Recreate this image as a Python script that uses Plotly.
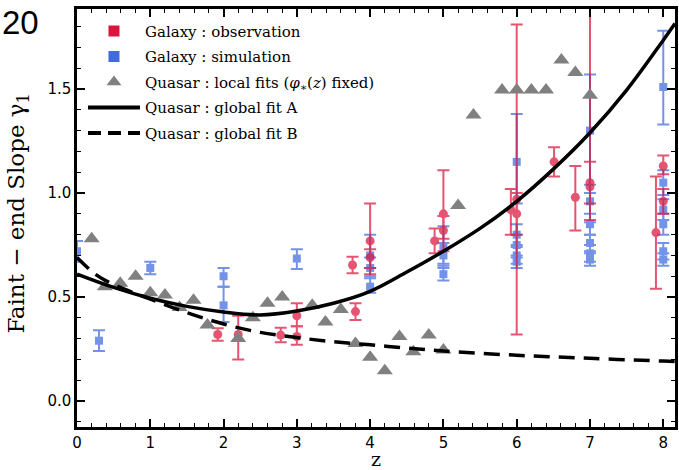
import plotly.graph_objects as go

# Galaxy faint-end slopes: observations (z, gamma, +err, -err)
obs_z = [1.92, 2.2, 2.78, 3.0, 3.0, 3.76, 3.8, 4.0, 4.0, 4.88, 5.0, 5.0,
         5.92, 6.0, 6.0, 6.51, 6.8, 7.0, 7.0, 7.9, 8.0, 8.0]
obs_g = [0.32, 0.32, 0.317, 0.41, 0.31, 0.654, 0.43, 0.77, 0.69, 0.77, 0.90, 0.82,
         0.92, 0.97, 0.90, 1.15, 0.98, 1.03, 1.05, 0.81, 1.13, 0.96]
obs_ep = [0.03, 0.09, 0.035, 0.06, 0.05, 0.04, 0.04, 0.18, 0.04, 0.06, 0.21, 0.07,
          0.10, 0.84, 0.10, 0.07, 0.15, 0.95, 0.10, 0.27, 0.05, 0.06]
obs_em = [0.03, 0.12, 0.035, 0.05, 0.04, 0.04, 0.04, 0.16, 0.05, 0.06, 0.12, 0.10,
          0.12, 0.65, 0.10, 0.07, 0.16, 0.16, 0.10, 0.27, 0.04, 0.06]

# Galaxy faint-end slopes: simulations
sim_z = [0.0, 0.3, 1.0, 2.0, 2.0, 3.0, 4.0, 4.0, 4.0, 5.0, 5.0, 5.0,
         6.0, 6.0, 6.0, 6.0, 6.0, 7.0, 7.0, 7.0, 7.0, 7.0, 7.0,
         8.0, 8.0, 8.0, 8.0, 8.0, 8.0]
sim_g = [0.72, 0.29, 0.64, 0.60, 0.46, 0.685, 0.70, 0.64, 0.55, 0.74, 0.70, 0.61,
         1.15, 0.80, 0.75, 0.70, 0.67, 1.30, 0.96, 0.85, 0.76, 0.71, 0.68,
         1.51, 1.05, 0.92, 0.85, 0.72, 0.68]
sim_ep = [0.05, 0.05, 0.03, 0.04, 0.09, 0.045, 0.10, 0.05, 0.05, 0.10, 0.06, 0.04,
          0.23, 0.05, 0.05, 0.04, 0.03, 0.27, 0.08, 0.05, 0.04, 0.04, 0.03,
          0.27, 0.06, 0.05, 0.05, 0.04, 0.03]
sim_em = [0.05, 0.05, 0.03, 0.05, 0.08, 0.05, 0.06, 0.05, 0.03, 0.08, 0.06, 0.03,
          0.20, 0.05, 0.06, 0.04, 0.03, 0.30, 0.10, 0.05, 0.04, 0.04, 0.03,
          0.18, 0.06, 0.05, 0.05, 0.04, 0.03]

# Quasar local fits with phi_*(z) fixed
qso_z = [0.2, 0.38, 0.59, 0.8, 1.0, 1.2, 1.4, 1.59, 1.78, 2.2, 2.4, 2.6, 2.8,
         3.21, 3.39, 3.6, 3.8, 4.0, 4.2, 4.4, 4.59, 4.8, 5.0, 5.2, 5.41,
         5.8, 6.0, 6.2, 6.4, 6.61, 6.8, 7.0]
qso_g = [0.78, 0.55, 0.566, 0.60, 0.52, 0.51, 0.45, 0.485, 0.365, 0.30, 0.40, 0.47, 0.50,
         0.46, 0.38, 0.44, 0.277, 0.21, 0.146, 0.31, 0.237, 0.317, 0.245, 0.94, 1.375,
         1.495, 1.495, 1.495, 1.495, 1.64, 1.58, 1.47]

# Global fits, sampled along redshift
fitA_z = [0.0, 0.5, 1.0, 1.5, 2.0, 2.5, 3.0, 3.5, 4.0, 4.5, 5.0, 5.5, 6.0, 6.5, 7.0, 7.5, 8.0, 8.16]
fitA_g = [0.61, 0.546, 0.494, 0.455, 0.428, 0.414, 0.433, 0.47, 0.527, 0.62, 0.72, 0.83,
          0.96, 1.115, 1.29, 1.495, 1.735, 1.815]
fitB_z = [0.0, 0.25, 0.5, 1.0, 1.5, 2.0, 2.5, 3.0, 3.5, 4.0, 4.5, 5.0, 6.0, 7.0, 8.0, 8.16]
fitB_g = [0.69, 0.61, 0.56, 0.49, 0.425, 0.37, 0.33, 0.305, 0.285, 0.27, 0.255, 0.24,
          0.22, 0.205, 0.192, 0.19]

RED = "#DC143C"
BLUE = "#4169E1"
GRAY = "#808080"
SERIF = "DejaVu Serif"
NB = "\u00a0"

fig = go.Figure()

fig.add_trace(go.Scatter(
    x=sim_z, y=sim_g, mode="markers", showlegend=False,
    marker=dict(symbol="square", size=8, color=BLUE), opacity=0.72,
    error_y=dict(type="data", symmetric=False, array=sim_ep, arrayminus=sim_em,
                 color=BLUE, thickness=2, width=6),
))
fig.add_trace(go.Scatter(
    x=obs_z, y=obs_g, mode="markers", showlegend=False,
    marker=dict(symbol="circle", size=9, color=RED), opacity=0.72,
    error_y=dict(type="data", symmetric=False, array=obs_ep, arrayminus=obs_em,
                 color=RED, thickness=2, width=6),
))
fig.add_trace(go.Scatter(
    x=qso_z, y=qso_g, mode="markers", showlegend=False,
    marker=dict(symbol="triangle-up", size=14, color=GRAY),
))
fig.add_trace(go.Scatter(
    x=fitA_z, y=fitA_g, mode="lines", showlegend=False,
    line=dict(color="black", width=3.5, shape="spline"),
))
fig.add_trace(go.Scatter(
    x=fitB_z, y=fitB_g, mode="lines", showlegend=False,
    line=dict(color="black", width=3.5, dash="16px,9px", shape="spline"),
))

# Legend entries
legend_items = [
    dict(name="Galaxy : observation", mode="markers",
         marker=dict(symbol="square", size=11, color=RED)),
    dict(name="Galaxy : simulation", mode="markers",
         marker=dict(symbol="square", size=11, color=BLUE)),
    dict(name="Quasar : local fits (<i>φ</i><sub>∗</sub>(<i>z</i>) fixed)", mode="markers",
         marker=dict(symbol="triangle-up", size=13, color=GRAY)),
    dict(name="Quasar : global fit A", mode="lines",
         line=dict(color="black", width=4)),
    dict(name="Quasar : global fit B", mode="lines",
         line=dict(color="black", width=4, dash="13px,7px")),
]
for i, item in enumerate(legend_items):
    fig.add_trace(go.Scatter(x=[None], y=[None], legendgroup=f"g{i}", **item))

axis_common = dict(
    showline=True, linecolor="black", linewidth=2.5, mirror="ticks",
    ticks="inside", ticklen=8, tickwidth=1.5, tickcolor="black",
    showgrid=False, zeroline=False,
    tickfont=dict(family="DejaVu Sans", size=15, color="black"),
)

fig.update_xaxes(
    range=[0, 8.16], tickmode="array", tickvals=[0, 1, 2, 3, 4, 5, 6, 7, 8],
    minor=dict(dtick=0.2, tick0=0, ticks="inside", ticklen=4, tickwidth=1.2, tickcolor="black"),
    title=dict(text="z", font=dict(family=SERIF, size=19, color="black"), standoff=2),
    **axis_common,
)
fig.update_yaxes(
    range=[-0.125, 1.885], tickmode="array", tickvals=[0, 0.5, 1.0, 1.5],
    ticktext=["0.0", "0.5", "1.0", "1.5"],
    minor=dict(dtick=0.1, tick0=0, ticks="inside", ticklen=4, tickwidth=1.2, tickcolor="black"),
    **axis_common,
)

fig.update_layout(
    width=679, height=470,
    margin=dict(l=77, r=1, t=9, b=43),
    paper_bgcolor="white", plot_bgcolor="white",
    legend=dict(
        x=0.010, y=0.986, xanchor="left", yanchor="top",
        bgcolor="rgba(0,0,0,0)", borderwidth=0,
        font=dict(family=SERIF, size=15, color="black"),
        tracegroupgap=3, itemwidth=52,
    ),
    annotations=[
        dict(
            text="20", xref="paper", yref="paper", x=-0.128, y=0.967,
            xanchor="left", yanchor="middle", showarrow=False,
            font=dict(family="Liberation Sans", size=33, color="black"),
        ),
        dict(
            text=f"Faint{NB}−{NB}end{NB}Slope{NB}γ<sub>1</sub>",
            xref="paper", yref="paper", x=-0.099, y=0.51,
            xanchor="center", yanchor="middle", textangle=-90, showarrow=False,
            font=dict(family=SERIF, size=23, color="black"),
        ),
    ],
)

fig.write_html("out.html")
